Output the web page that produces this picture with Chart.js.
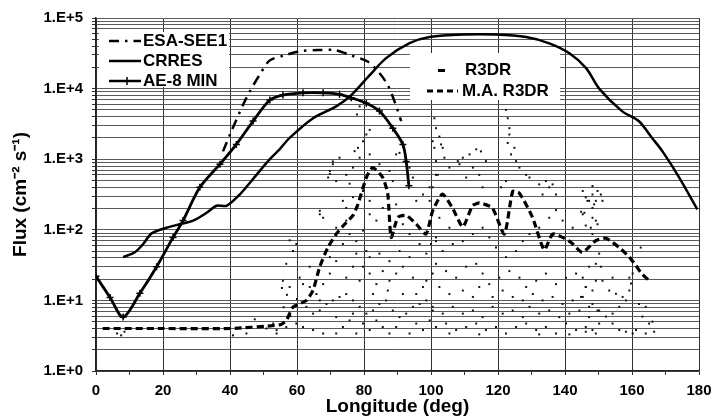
<!DOCTYPE html>
<html>
<head>
<meta charset="utf-8">
<script src="https://cdn.jsdelivr.net/npm/chart.js@4/dist/chart.umd.min.js"></script>
<style>
  body { margin: 0; background: #fff; }
</style>
</head>
<body>
<canvas id="fluxChart" width="720" height="418"></canvas>
<script>
// DATA
const xTickValues = [0, 20, 40, 60, 80, 100, 120, 140, 160, 180];
const decades = [1, 10, 100, 1000, 10000, 100000];
const yTickLabels = ['1.E+0', '1.E+1', '1.E+2', '1.E+3', '1.E+4', '1.E+5'];

const esaLon  = [37.9, 40, 43.9, 45.9, 48.9, 51.9, 56.3, 60.8, 66.3, 71.2, 76.2, 81.2, 84.6, 87.1, 89.1, 91.1];
const esaFlux = [1290, 2240, 5900, 9100, 15800, 25100, 29500, 33900, 35100, 35100, 29500, 24000, 16600, 11200, 6600, 3470];

const crresLon  = [8.1, 11.6, 14.1, 16.6, 21, 25, 29, 33, 36, 39, 42.9, 47.9, 51.9, 54.8, 57.8, 64.8, 71.7, 76.2, 81.7, 86.6,
                   93.6, 99.6, 109.5, 119.4, 128.4, 135.3, 141.3, 146.3, 150.2, 157, 162, 166, 169.1, 174.1, 179.5];
const crresFlux = [41, 48, 63, 89, 107, 120, 135, 174, 219, 219, 316, 600, 1000, 1380, 2000, 3800, 5600, 8100, 15500, 27000,
                   44000, 53700, 58200, 58200, 53700, 43700, 31600, 19500, 10000, 4800, 3470, 2000, 1290, 550, 195];

const ae8Lon  = [0, 4.2, 8.1, 13.1, 18.1, 23, 26, 31, 37, 41.9, 46.9, 51.9, 55.8, 61.8, 67.8, 72.7, 76.2, 80.7, 84.6, 88.6, 91.6, 92.6, 93.4];
const ae8Flux = [22, 11, 5.8, 12.6, 30, 78, 135, 400, 850, 1620, 3470, 6900, 8100, 8700, 8700, 8300, 7400, 6200, 4800, 2750, 1620, 930, 420];

const maLon  = [2, 20, 40, 54.8, 56.8, 58.8, 62.8, 64.8, 66.8, 69.2, 71.7, 74.2, 76.7, 78.2, 80.7, 82.6, 85.6, 87.1, 88.1, 90.1,
                92.6, 95.6, 98.5, 100.5, 103.4, 106.4, 109.5, 112.4, 114.5, 118.3, 121.9, 124.4, 126.4, 130.3, 133.8, 136.3, 139.3, 142,
                145.2, 149.2, 152.2, 156.2, 159.2, 161.2, 162.6, 165.1];
const maFlux = [4, 4, 4, 4.5, 5.2, 8, 10, 14, 30, 56, 87, 120, 160, 230, 550, 760, 550, 320, 78, 150,
                160, 120, 87, 185, 320, 204, 110, 220, 240, 204, 87, 350, 330, 150, 52, 87, 78, 65,
                48, 70, 76, 56, 41, 31, 25, 19];

// R3DR single points [longitude, flux]
const r3drPoints = [
  [6.3,3.4],[7.5,3.2],[8.5,3.6],[40.9,3.2],[44.9,3.4],[47.4,5.4],[50.9,4.0],[53.9,3.4],[55.5,15],[57,12],
  [60,10.5],[56,8],[58,6],[57.8,71],[58.8,50],[66.8,186],[70.7,930],[69.8,620],[75.7,450],
  [66.8,166],[67.8,148],[71.7,107],[74.7,135],[75.7,87],[73.7,63],[77.7,69],[79.7,98],[80.7,50],[81.7,166],
  [83.7,135],[85.6,204],[89.6,229],[91.6,120],[93.6,87],[96.6,63],[98.6,46],[101.5,69],[74.7,204],[76.7,30],
  [79.7,30],[81.7,24],[83.7,17],[85.6,26],[87.6,19],[89.6,24],[91.6,30],[94.6,21],[97.6,15.5],[100.5,24],
  [71.7,36],[69.8,24],[67.8,17],[65.8,12.3],[63.8,15.5],[61.8,17],[57.8,15.5],[55.8,19],[56.8,33],[58.8,50],
  [59.8,63],[62.8,8.1],[64.8,6.5],[66.8,7.2],[68.8,8.9],[70.7,10],[72.7,11.2],[74.7,12.3],[76.7,10],[78.7,8.1],
  [80.7,6.5],[82.7,7.2],[84.6,8.9],[86.6,10],[88.6,7.2],[90.6,5.8],[92.6,6.5],[94.6,8.1],[96.6,8.9],[98.6,10],
  [100.5,7.2],[101.5,4.2],[97.6,3.8],[93.6,3.4],[89.6,4.2],[85.6,4.2],[81.7,3.8],[77.7,3.4],[73.7,4.2],[71.7,3.4],
  [67.8,3.4],[64.8,3.8],[61.8,4.2],[59.8,4.7],[56.8,4.2],[53.9,3.8],[52.9,4.7],[75.7,5.2],[79.7,4.7],[83.7,5.2],
  [87.6,3.4],[95.6,4.7],[99.6,5.2],[66.8,10],[71.7,5.8],[76.7,6.5],[82.7,12.3],[87.1,13.8],[91.6,12.3],[95.6,12.3],
  [98.6,19],[74.7,21],[78.7,19],[84.6,46],[87.6,36],[93.6,41],[90.6,50],[77.7,46],[81.7,41],[69.8,41],
  [63.8,30],[60.8,21],
  [80.7,2240],[81.7,2600],[79.7,1800],[78.2,1450],[77.2,1300],[78.7,1050],[72.7,1050],[70.7,850],[69.8,680],[69.3,550],
  [71.7,490],[74.7,600],[76.7,760],[81.7,1170],[84.6,850],[87.6,680],[88.6,490],[89.6,1170],[90.6,1230],[93.6,760],
  [94.6,550],[79.7,355],[81.7,257],[76.7,290],[73.7,257],[100.5,1800],[101.0,1450],[101.5,940],[102.0,600],[99.6,400],
  [97.6,316],[95.6,257],[99.6,257],[78.7,5600],[77.9,4300],
  [101.0,3800],[101.5,2750],[102.5,2090],[103.0,1620],[103.5,1450],[104.0,1050],[101.5,600],[100.5,400],[105.5,760],[108.0,940],
  [109.5,1050],[111.5,1170],[113.5,1380],[114.9,1290],[116.4,940],[112.5,760],[110.5,550],[108.5,850],[114.4,600],[115.4,400],
  [122.4,5000],[122.9,3800],[123.4,2750],[123.4,2240],[122.9,1700],[124.9,1450],[123.9,1170],[125.4,940],[126.4,760],[128.4,600],
  [129.4,550],[122.4,490],[120.9,400],[132.3,440],[134.3,490],[135.3,400],[136.3,440],[137.3,316],[133.3,316],[145.3,355],
  [148.2,316],[149.2,257],[147.2,257],
  [100.5,190],[102.5,148],[105.5,107],[101.5,78],[100.0,63],[103.5,50],[106.5,63],[109.5,69],[112.5,87],[115.4,107],
  [117.4,78],[119.4,56],[122.4,41],[125.4,50],[127.4,69],[129.4,87],[132.3,107],[135.3,148],[137.3,190],[139.3,135],
  [142.3,107],[145.3,166],[148.2,204],[149.2,135],[148.2,87],[101.5,33],[104.5,26],[107.5,21],[110.5,30],[113.5,33],
  [115.4,24],[117.4,17],[120.4,21],[123.4,26],[126.4,21],[128.4,15.5],[131.4,19],[134.3,24],[137.3,17],[140.3,21],
  [143.3,24],[146.2,15.5],[149.2,19],[102.5,15.5],[105.5,12.3],[109.5,13.8],[112.5,11.2],[114.4,15.5],[118.4,11.2],[121.4,13.8],
  [124.4,11.2],[127.4,10],[130.4,12.3],[133.3,10],[136.3,11.2],[139.3,8.9],[142.3,10],[145.3,11.2],[148.2,8.9],[100.5,8.1],
  [103.5,6.5],[106.5,8.1],[109.5,6.5],[112.5,7.2],[115.4,5.8],[118.4,8.1],[121.4,6.5],[124.4,7.2],[127.4,5.8],[129.4,8.1],
  [132.3,6.5],[135.3,7.2],[138.3,5.8],[141.3,6.5],[144.3,7.2],[147.2,5.8],[149.7,7.2],[101.5,4.2],[104.5,4.7],[107.5,3.8],
  [110.5,4.2],[113.5,4.7],[116.4,3.8],[119.4,4.2],[122.4,3.4],[125.4,4.2],[128.4,4.7],[131.4,3.8],[134.3,4.2],[137.3,3.4],
  [140.3,4.7],[143.3,3.8],[146.2,4.2],[149.2,3.4],[105.5,3.4],[114.4,3.3],[132.3,3.3],[141.3,3.3],
  [148.2,417],[149.7,355],[150.7,316],[151.2,257],[146.2,288],[146.7,257],[145.8,174],[148.2,148],[149.7,120],[147.7,107],
  [146.2,115],[144.8,180],[150.2,46],[149.2,33],[147.2,30],[150.7,30],[145.3,21],[146.2,15.5],[148.2,13.8],[144.8,11.2],
  [147.2,8.1],[150.2,7.2],[153.2,13.8],[155.2,12.4],[157.2,11.2],[159.2,21],[160.2,24],[159.7,17.4],[159.2,13.8],[158.2,10],
  [156.2,8.1],[154.2,6.5],[152.2,5.9],[150.2,4.7],[148.2,3.8],[146.2,3.6],[154.2,4.7],[156.2,3.8],[158.2,3.6],[160.2,3.4],
  [161.2,3.8],[163.1,5.9],[164.1,8.1],[165.1,4.7],[166.1,5.0],[166.6,3.6],[164.1,3.4],[162.1,8.9],[162.6,56],[148.7,229],
  [154.2,21],[151.2,19]
];

const toXY = (xs, ys) => xs.map((x, i) => ({ x: x, y: ys[i] }));

// y ticks at 1..9 of every decade, labels only on the decades
const yTickValues = [];
decades.slice(0, -1).forEach(d => { for (let m = 1; m <= 9; m++) yTickValues.push(m * d); });
yTickValues.push(decades[decades.length - 1]);

const FONT = '"Liberation Sans", Arial, sans-serif';

// legend boxes drawn inside the plot, over the grid
const boxLegends = {
  id: 'boxLegends',
  beforeDatasetsDraw(chart) {
    const c = chart.ctx;
    c.save();
    c.fillStyle = '#fff';
    c.fillRect(99, 32, 130, 55);
    c.fillRect(410, 53, 150, 47);

    c.strokeStyle = '#000';
    c.fillStyle = '#000';
    c.lineWidth = 2.5;
    // ESA-SEE1
    c.setLineDash([10, 6, 2.5, 6]);
    c.beginPath(); c.moveTo(109, 41); c.lineTo(141, 41); c.stroke();
    c.setLineDash([]);
    // CRRES
    c.beginPath(); c.moveTo(109, 61); c.lineTo(141, 61); c.stroke();
    // AE-8 MIN
    c.beginPath(); c.moveTo(109, 81); c.lineTo(141, 81); c.stroke();
    c.lineWidth = 1.5;
    c.beginPath(); c.moveTo(127, 77); c.lineTo(127, 85); c.stroke();
    // R3DR
    c.fillRect(438, 69, 7, 3);
    // M.A. R3DR
    c.lineWidth = 3;
    c.setLineDash([6, 4]);
    c.beginPath(); c.moveTo(427, 91); c.lineTo(458, 91); c.stroke();
    c.setLineDash([]);

    c.font = 'bold 17px ' + FONT;
    c.textBaseline = 'middle';
    c.fillText('ESA-SEE1', 143, 41);
    c.fillText('CRRES', 143, 61);
    c.fillText('AE-8 MIN', 143, 81);
    c.fillText('R3DR', 465, 70);
    c.fillText('M.A. R3DR', 462, 91);
    c.restore();
  }
};

const data = {
  datasets: [
    {
      label: 'ESA-SEE1',
      data: toXY(esaLon, esaFlux),
      borderColor: '#000',
      borderWidth: 2.5,
      borderDash: [10, 6, 2.5, 6],
      pointRadius: 0,
      tension: 0.3
    },
    {
      label: 'CRRES',
      data: toXY(crresLon, crresFlux),
      borderColor: '#000',
      borderWidth: 2.5,
      pointRadius: 0,
      tension: 0.3
    },
    {
      label: 'AE-8 MIN',
      data: toXY(ae8Lon, ae8Flux),
      borderColor: '#000',
      backgroundColor: '#000',
      borderWidth: 2.8,
      pointStyle: 'cross',
      pointRadius: 3.5,
      pointBorderWidth: 1.5,
      tension: 0.3
    },
    {
      label: 'M.A. R3DR',
      data: toXY(maLon, maFlux),
      borderColor: '#000',
      borderWidth: 3.2,
      borderDash: [7, 4],
      pointRadius: 0,
      tension: 0.2
    },
    {
      label: 'R3DR',
      data: r3drPoints.map(p => ({ x: p[0], y: p[1] })),
      showLine: false,
      pointStyle: 'rect',
      pointRadius: 1.4,
      pointBorderWidth: 0,
      backgroundColor: '#111',
      borderColor: '#111'
    }
  ]
};

const options = {
  responsive: false,
  animation: false,
  layout: { padding: { left: 0, right: 21, top: 16, bottom: 0 } },
  plugins: {
    legend: { display: false },
    tooltip: { enabled: false }
  },
  scales: {
    x: {
      type: 'linear',
      min: 0,
      max: 180,
      afterFit: s => { s.height = 47; },
      afterBuildTicks: s => {
        const t = [];
        for (let v = 0; v <= 180; v += 10) t.push({ value: v });
        s.ticks = t;
      },
      grid: {
        color: ctx => (ctx.tick && xTickValues.includes(ctx.tick.value)) ? '#333' : 'rgba(0,0,0,0)',
        tickColor: '#333',
        tickLength: 4,
        lineWidth: 1
      },
      border: { color: '#222', width: 1.5 },
      ticks: {
        autoSkip: false,
        maxRotation: 0,
        padding: 7,
        color: '#000',
        font: { family: FONT, size: 15, weight: 'bold' },
        callback: v => xTickValues.includes(v) ? String(v) : ''
      },
      title: {
        display: true,
        text: 'Longitude (deg)',
        color: '#000',
        font: { family: FONT, size: 19, weight: 'bold' },
        padding: { top: 0, bottom: 0 }
      }
    },
    y: {
      type: 'logarithmic',
      min: 1,
      max: 100000,
      afterFit: s => { s.width = 96; },
      afterBuildTicks: s => { s.ticks = yTickValues.map(v => ({ value: v })); },
      grid: {
        color: '#5a5a5a',
        tickColor: '#333',
        tickLength: 4,
        lineWidth: 1
      },
      border: { color: '#222', width: 1.5 },
      ticks: {
        autoSkip: false,
        padding: 9,
        color: '#000',
        font: { family: FONT, size: 15, weight: 'bold' },
        callback: v => {
          const i = decades.indexOf(v);
          return i >= 0 ? yTickLabels[i] : '';
        }
      },
      title: {
        display: true,
        text: 'Flux (cm\u207B\u00B2 s\u207B\u00B9)',
        color: '#000',
        font: { family: FONT, size: 19, weight: 'bold' },
        padding: { top: 9, bottom: 0 }
      }
    }
  }
};

const ctx = document.getElementById('fluxChart');

const fluxChart = new Chart(ctx, {
  type: 'line',
  data: data,
  options: options,
  plugins: [boxLegends]
});
</script>
</body>
</html>
